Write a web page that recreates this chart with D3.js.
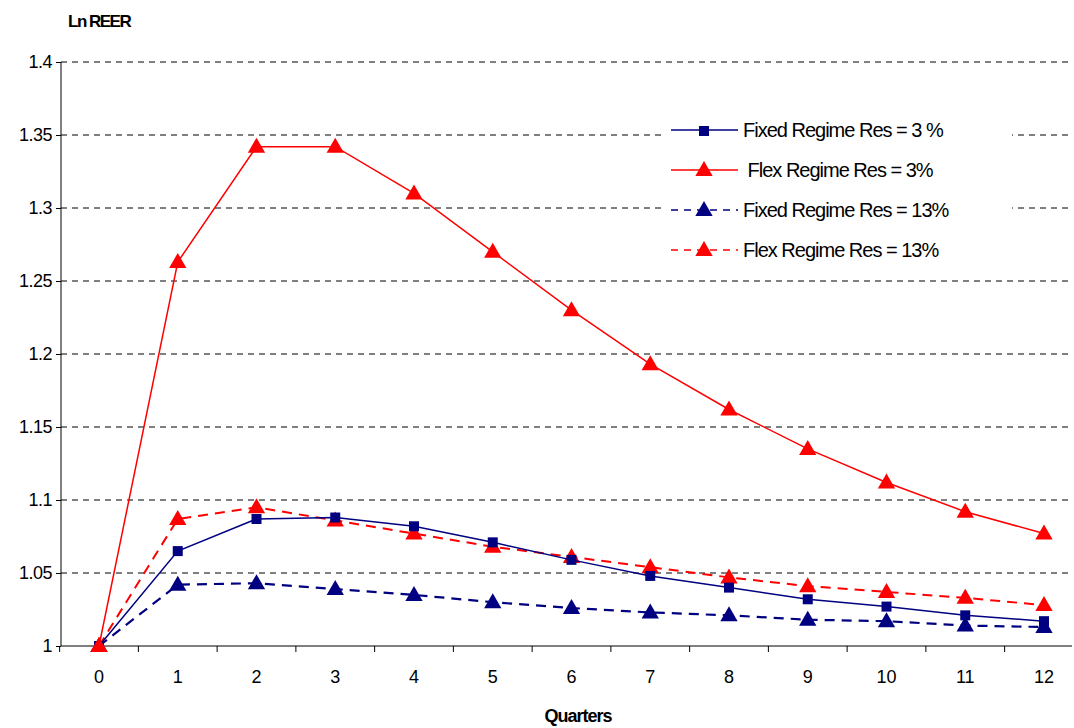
<!DOCTYPE html>
<html><head><meta charset="utf-8">
<script src="https://cdn.jsdelivr.net/npm/d3@7"></script>
<style>
body{margin:0;background:#fff}
text{font-family:Arial,"Liberation Sans",sans-serif;fill:#000}
</style></head><body><div class="app"></div>
<script>
var width = 1074, height = 728;
var quarters = [0,1,2,3,4,5,6,7,8,9,10,11,12];
var fixed3  = [1,1.065,1.087,1.088,1.082,1.071,1.059,1.048,1.040,1.032,1.027,1.021,1.017];
var flex3   = [1,1.263,1.342,1.342,1.310,1.270,1.230,1.193,1.162,1.135,1.112,1.092,1.077];
var fixed13 = [1,1.042,1.043,1.039,1.035,1.030,1.026,1.023,1.021,1.018,1.017,1.014,1.013];
var flex13  = [1,1.087,1.095,1.086,1.077,1.068,1.061,1.054,1.047,1.041,1.037,1.033,1.028];
var yTicks = [1,1.05,1.1,1.15,1.2,1.25,1.3,1.35,1.4];

var series = [
  {name:"Fixed Regime Res = 3 %", v:fixed3, color:"#000080", dash:null, sym:"square", w:1.5},
  {name:" Flex Regime Res = 3%", v:flex3, color:"#ff0000", dash:null, sym:"triangle", w:1.5},
  {name:"Fixed Regime Res = 13%", v:fixed13, color:"#000080", dash:"10,7", sym:"triangle", w:2.2},
  {name:"Flex Regime Res = 13%", v:flex13, color:"#ff0000", dash:"10,7", sym:"triangle", w:2}
];

var plotL = 61, plotR = 1072, plotT = 62, plotB = 646;
var svg = d3.select(".app").append("svg").attr("width", width).attr("height", height);

var x = d3.scalePoint().domain(quarters).range([99, 1044]);
var step = x.step();
var y = d3.scaleLinear().domain([1, 1.4]).range([plotB, plotT]);

// gridlines
svg.append("g").selectAll("line").data(yTicks.slice(1)).join("line")
  .attr("x1", plotL).attr("x2", plotR).attr("y1", d => y(d)).attr("y2", d => y(d))
  .attr("stroke", "#000").attr("stroke-dasharray", "6,5").attr("stroke-width", 1);

// y axis
var yAxis = d3.axisLeft(y).tickValues(yTicks).tickSize(5).tickFormat(d => String(+d.toFixed(2)));
var gy = svg.append("g").attr("transform", "translate(" + plotL + ",0)").call(yAxis);
gy.select(".domain").attr("d", "M0," + plotT + "V" + plotB);
gy.selectAll("text").style("font-size", "18px").attr("x", -9).style("letter-spacing", "-0.5px");

// x axis
var gx = svg.append("g").attr("transform", "translate(0," + plotB + ")");
gx.append("line").attr("x1", plotL).attr("x2", plotR).attr("stroke", "#000");
gx.selectAll("line.t").data(d3.range(quarters.length + 1)).join("line").attr("class", "t")
  .attr("x1", i => x(0) - step / 2 + i * step).attr("x2", i => x(0) - step / 2 + i * step)
  .attr("y1", 0).attr("y2", 6).attr("stroke", "#000");
gx.selectAll("text").data(quarters).join("text")
  .attr("x", d => x(d)).attr("y", 37).attr("text-anchor", "middle")
  .style("font-size", "18px").text(d => d);

svg.append("text").attr("x", 578).attr("y", 722).attr("text-anchor", "middle")
  .style("font-size", "18px").style("font-weight", "bold").style("letter-spacing", "-1px").text("Quarters");
svg.append("text").attr("x", 68).attr("y", 27).style("font-size", "17px")
  .style("font-weight", "bold").style("letter-spacing", "-1.5px").text("Ln REER");

var line = d3.line().x((d, i) => x(quarters[i])).y(d => y(d));
var tri = d3.symbol().type(d3.symbolTriangle).size(130);
var sq = d3.symbol().type(d3.symbolSquare).size(100);

// draw order: fixed13, flex13, fixed3, flex3
[2, 3, 0, 1].forEach(function (k) {
  var s = series[k];
  var g = svg.append("g");
  g.append("path").attr("d", line(s.v)).attr("fill", "none").attr("stroke", s.color)
    .attr("stroke-width", s.w).attr("stroke-dasharray", s.dash);
  g.selectAll("path.m").data(s.v).join("path").attr("class", "m")
    .attr("d", s.sym === "square" ? sq : tri)
    .attr("transform", (d, i) => "translate(" + x(quarters[i]) + "," + (y(d) + (s.sym === "square" ? 0 : 1)) + ")")
    .attr("fill", s.color);
});

// legend
var lg = svg.append("g");
lg.append("rect").attr("x", 662).attr("y", 112).attr("width", 350).attr("height", 160).attr("fill", "#fff");
series.forEach(function (s, i) {
  var yy = 130 + i * 40;
  lg.append("line").attr("x1", 671).attr("x2", 738).attr("y1", yy).attr("y2", yy)
    .attr("stroke", s.color).attr("stroke-width", 1.5).attr("stroke-dasharray", s.dash ? "7,6" : null);
  lg.append("path").attr("d", s.sym === "square" ? sq : tri)
    .attr("transform", "translate(704," + (yy + 1) + ")").attr("fill", s.color);
  lg.append("text").attr("x", 743).attr("y", yy + 7).style("font-size", "20px")
    .style("letter-spacing", "-1px").attr("xml:space", "preserve").text(s.name);
});
</script></body></html>
